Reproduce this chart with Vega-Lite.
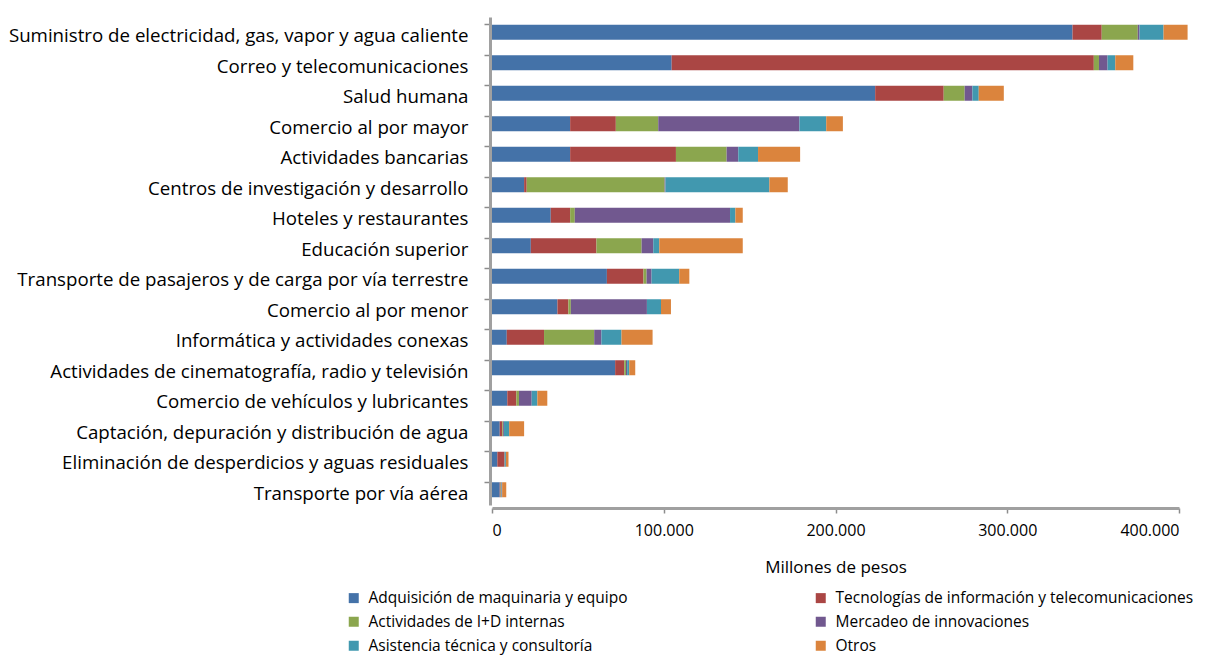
{
  "$schema": "https://vega.github.io/schema/vega-lite/v6.json",
  "autosize": {"type": "none"},
  "padding": {"left": 492, "top": 17, "right": 34, "bottom": 151},
  "width": 687,
  "height": 488,
  "background": "white",
  "config": {
    "locale": {"number": {"decimal": ",", "thousands": ".", "grouping": [3], "currency": ["$", ""]}},
    "view": {"stroke": null},
    "font": "Open Sans"
  },
  "data": {
    "values": [
      {"sector": "Suministro de electricidad, gas, vapor y agua caliente", "tipo": "Adquisición de maquinaria y equipo", "o": 1, "valor": 338000},
      {"sector": "Suministro de electricidad, gas, vapor y agua caliente", "tipo": "Tecnologías de información y telecomunicaciones", "o": 2, "valor": 17000},
      {"sector": "Suministro de electricidad, gas, vapor y agua caliente", "tipo": "Actividades de I+D internas", "o": 3, "valor": 21000},
      {"sector": "Suministro de electricidad, gas, vapor y agua caliente", "tipo": "Mercadeo de innovaciones", "o": 4, "valor": 1000},
      {"sector": "Suministro de electricidad, gas, vapor y agua caliente", "tipo": "Asistencia técnica y consultoría", "o": 5, "valor": 14000},
      {"sector": "Suministro de electricidad, gas, vapor y agua caliente", "tipo": "Otros", "o": 6, "valor": 14000},

      {"sector": "Correo y telecomunicaciones", "tipo": "Adquisición de maquinaria y equipo", "o": 1, "valor": 104600},
      {"sector": "Correo y telecomunicaciones", "tipo": "Tecnologías de información y telecomunicaciones", "o": 2, "valor": 245800},
      {"sector": "Correo y telecomunicaciones", "tipo": "Actividades de I+D internas", "o": 3, "valor": 3000},
      {"sector": "Correo y telecomunicaciones", "tipo": "Mercadeo de innovaciones", "o": 4, "valor": 5000},
      {"sector": "Correo y telecomunicaciones", "tipo": "Asistencia técnica y consultoría", "o": 5, "valor": 4500},
      {"sector": "Correo y telecomunicaciones", "tipo": "Otros", "o": 6, "valor": 10500},

      {"sector": "Salud humana", "tipo": "Adquisición de maquinaria y equipo", "o": 1, "valor": 223100},
      {"sector": "Salud humana", "tipo": "Tecnologías de información y telecomunicaciones", "o": 2, "valor": 39900},
      {"sector": "Salud humana", "tipo": "Actividades de I+D internas", "o": 3, "valor": 12200},
      {"sector": "Salud humana", "tipo": "Mercadeo de innovaciones", "o": 4, "valor": 4500},
      {"sector": "Salud humana", "tipo": "Asistencia técnica y consultoría", "o": 5, "valor": 3700},
      {"sector": "Salud humana", "tipo": "Otros", "o": 6, "valor": 14600},

      {"sector": "Comercio al por mayor", "tipo": "Adquisición de maquinaria y equipo", "o": 1, "valor": 45500},
      {"sector": "Comercio al por mayor", "tipo": "Tecnologías de información y telecomunicaciones", "o": 2, "valor": 26600},
      {"sector": "Comercio al por mayor", "tipo": "Actividades de I+D internas", "o": 3, "valor": 24700},
      {"sector": "Comercio al por mayor", "tipo": "Mercadeo de innovaciones", "o": 4, "valor": 82200},
      {"sector": "Comercio al por mayor", "tipo": "Asistencia técnica y consultoría", "o": 5, "valor": 15600},
      {"sector": "Comercio al por mayor", "tipo": "Otros", "o": 6, "valor": 9700},

      {"sector": "Actividades bancarias", "tipo": "Adquisición de maquinaria y equipo", "o": 1, "valor": 45500},
      {"sector": "Actividades bancarias", "tipo": "Tecnologías de información y telecomunicaciones", "o": 2, "valor": 61600},
      {"sector": "Actividades bancarias", "tipo": "Actividades de I+D internas", "o": 3, "valor": 29500},
      {"sector": "Actividades bancarias", "tipo": "Mercadeo de innovaciones", "o": 4, "valor": 6800},
      {"sector": "Actividades bancarias", "tipo": "Asistencia técnica y consultoría", "o": 5, "valor": 11500},
      {"sector": "Actividades bancarias", "tipo": "Otros", "o": 6, "valor": 24500},

      {"sector": "Centros de investigación y desarrollo", "tipo": "Adquisición de maquinaria y equipo", "o": 1, "valor": 18700},
      {"sector": "Centros de investigación y desarrollo", "tipo": "Tecnologías de información y telecomunicaciones", "o": 2, "valor": 1500},
      {"sector": "Centros de investigación y desarrollo", "tipo": "Actividades de I+D internas", "o": 3, "valor": 80300},
      {"sector": "Centros de investigación y desarrollo", "tipo": "Mercadeo de innovaciones", "o": 4, "valor": 500},
      {"sector": "Centros de investigación y desarrollo", "tipo": "Asistencia técnica y consultoría", "o": 5, "valor": 60500},
      {"sector": "Centros de investigación y desarrollo", "tipo": "Otros", "o": 6, "valor": 10700},

      {"sector": "Hoteles y restaurantes", "tipo": "Adquisición de maquinaria y equipo", "o": 1, "valor": 34200},
      {"sector": "Hoteles y restaurantes", "tipo": "Tecnologías de información y telecomunicaciones", "o": 2, "valor": 11300},
      {"sector": "Hoteles y restaurantes", "tipo": "Actividades de I+D internas", "o": 3, "valor": 2700},
      {"sector": "Hoteles y restaurantes", "tipo": "Mercadeo de innovaciones", "o": 4, "valor": 90400},
      {"sector": "Hoteles y restaurantes", "tipo": "Asistencia técnica y consultoría", "o": 5, "valor": 3100},
      {"sector": "Hoteles y restaurantes", "tipo": "Otros", "o": 6, "valor": 4300},

      {"sector": "Educación superior", "tipo": "Adquisición de maquinaria y equipo", "o": 1, "valor": 22600},
      {"sector": "Educación superior", "tipo": "Tecnologías de información y telecomunicaciones", "o": 2, "valor": 38200},
      {"sector": "Educación superior", "tipo": "Actividades de I+D internas", "o": 3, "valor": 26300},
      {"sector": "Educación superior", "tipo": "Mercadeo de innovaciones", "o": 4, "valor": 6800},
      {"sector": "Educación superior", "tipo": "Asistencia técnica y consultoría", "o": 5, "valor": 3500},
      {"sector": "Educación superior", "tipo": "Otros", "o": 6, "valor": 48600},

      {"sector": "Transporte  de pasajeros y de carga por vía terrestre", "tipo": "Adquisición de maquinaria y equipo", "o": 1, "valor": 66900},
      {"sector": "Transporte  de pasajeros y de carga por vía terrestre", "tipo": "Tecnologías de información y telecomunicaciones", "o": 2, "valor": 21300},
      {"sector": "Transporte  de pasajeros y de carga por vía terrestre", "tipo": "Actividades de I+D internas", "o": 3, "valor": 1800},
      {"sector": "Transporte  de pasajeros y de carga por vía terrestre", "tipo": "Mercadeo de innovaciones", "o": 4, "valor": 2900},
      {"sector": "Transporte  de pasajeros y de carga por vía terrestre", "tipo": "Asistencia técnica y consultoría", "o": 5, "valor": 16100},
      {"sector": "Transporte  de pasajeros y de carga por vía terrestre", "tipo": "Otros", "o": 6, "valor": 5900},

      {"sector": "Comercio al por menor", "tipo": "Adquisición de maquinaria y equipo", "o": 1, "valor": 38100},
      {"sector": "Comercio al por menor", "tipo": "Tecnologías de información y telecomunicaciones", "o": 2, "valor": 6400},
      {"sector": "Comercio al por menor", "tipo": "Actividades de I+D internas", "o": 3, "valor": 1400},
      {"sector": "Comercio al por menor", "tipo": "Mercadeo de innovaciones", "o": 4, "valor": 44300},
      {"sector": "Comercio al por menor", "tipo": "Asistencia técnica y consultoría", "o": 5, "valor": 8200},
      {"sector": "Comercio al por menor", "tipo": "Otros", "o": 6, "valor": 5800},

      {"sector": "Informática y actividades conexas", "tipo": "Adquisición de maquinaria y equipo", "o": 1, "valor": 8600},
      {"sector": "Informática y actividades conexas", "tipo": "Tecnologías de información y telecomunicaciones", "o": 2, "valor": 21700},
      {"sector": "Informática y actividades conexas", "tipo": "Actividades de I+D internas", "o": 3, "valor": 29200},
      {"sector": "Informática y actividades conexas", "tipo": "Mercadeo de innovaciones", "o": 4, "valor": 4200},
      {"sector": "Informática y actividades conexas", "tipo": "Asistencia técnica y consultoría", "o": 5, "valor": 11700},
      {"sector": "Informática y actividades conexas", "tipo": "Otros", "o": 6, "valor": 18100},

      {"sector": "Actividades de cinematografía, radio y televisión", "tipo": "Adquisición de maquinaria y equipo", "o": 1, "valor": 71700},
      {"sector": "Actividades de cinematografía, radio y televisión", "tipo": "Tecnologías de información y telecomunicaciones", "o": 2, "valor": 5300},
      {"sector": "Actividades de cinematografía, radio y televisión", "tipo": "Actividades de I+D internas", "o": 3, "valor": 1000},
      {"sector": "Actividades de cinematografía, radio y televisión", "tipo": "Mercadeo de innovaciones", "o": 4, "valor": 700},
      {"sector": "Actividades de cinematografía, radio y televisión", "tipo": "Asistencia técnica y consultoría", "o": 5, "valor": 1200},
      {"sector": "Actividades de cinematografía, radio y televisión", "tipo": "Otros", "o": 6, "valor": 3500},

      {"sector": "Comercio de vehículos y lubricantes", "tipo": "Adquisición de maquinaria y equipo", "o": 1, "valor": 8900},
      {"sector": "Comercio de vehículos y lubricantes", "tipo": "Tecnologías de información y telecomunicaciones", "o": 2, "valor": 5300},
      {"sector": "Comercio de vehículos y lubricantes", "tipo": "Actividades de I+D internas", "o": 3, "valor": 1500},
      {"sector": "Comercio de vehículos y lubricantes", "tipo": "Mercadeo de innovaciones", "o": 4, "valor": 7400},
      {"sector": "Comercio de vehículos y lubricantes", "tipo": "Asistencia técnica y consultoría", "o": 5, "valor": 3300},
      {"sector": "Comercio de vehículos y lubricantes", "tipo": "Otros", "o": 6, "valor": 5800},

      {"sector": "Captación, depuración y distribución de agua", "tipo": "Adquisición de maquinaria y equipo", "o": 1, "valor": 4500},
      {"sector": "Captación, depuración y distribución de agua", "tipo": "Tecnologías de información y telecomunicaciones", "o": 2, "valor": 1500},
      {"sector": "Captación, depuración y distribución de agua", "tipo": "Actividades de I+D internas", "o": 3, "valor": 500},
      {"sector": "Captación, depuración y distribución de agua", "tipo": "Mercadeo de innovaciones", "o": 4, "valor": 500},
      {"sector": "Captación, depuración y distribución de agua", "tipo": "Asistencia técnica y consultoría", "o": 5, "valor": 3000},
      {"sector": "Captación, depuración y distribución de agua", "tipo": "Otros", "o": 6, "valor": 8700},

      {"sector": "Eliminación de desperdicios y aguas residuales", "tipo": "Adquisición de maquinaria y equipo", "o": 1, "valor": 3100},
      {"sector": "Eliminación de desperdicios y aguas residuales", "tipo": "Tecnologías de información y telecomunicaciones", "o": 2, "valor": 3900},
      {"sector": "Eliminación de desperdicios y aguas residuales", "tipo": "Actividades de I+D internas", "o": 3, "valor": 300},
      {"sector": "Eliminación de desperdicios y aguas residuales", "tipo": "Mercadeo de innovaciones", "o": 4, "valor": 300},
      {"sector": "Eliminación de desperdicios y aguas residuales", "tipo": "Asistencia técnica y consultoría", "o": 5, "valor": 500},
      {"sector": "Eliminación de desperdicios y aguas residuales", "tipo": "Otros", "o": 6, "valor": 1500},

      {"sector": "Transporte por vía aérea", "tipo": "Adquisición de maquinaria y equipo", "o": 1, "valor": 4500},
      {"sector": "Transporte por vía aérea", "tipo": "Tecnologías de información y telecomunicaciones", "o": 2, "valor": 500},
      {"sector": "Transporte por vía aérea", "tipo": "Actividades de I+D internas", "o": 3, "valor": 300},
      {"sector": "Transporte por vía aérea", "tipo": "Mercadeo de innovaciones", "o": 4, "valor": 300},
      {"sector": "Transporte por vía aérea", "tipo": "Asistencia técnica y consultoría", "o": 5, "valor": 300},
      {"sector": "Transporte por vía aérea", "tipo": "Otros", "o": 6, "valor": 2400}
    ]
  },
  "mark": {"type": "bar", "size": 15},
  "encoding": {
    "y": {
      "field": "sector",
      "type": "nominal",
      "sort": null,
      "scale": {"paddingInner": 0.5, "paddingOuter": 0.25},
      "axis": {
        "title": null,
        "bandPosition": 0,
        "labelFontSize": 18.7,
        "labelColor": "#000000",
        "labelPadding": 16,
        "labelOffset": 4,
        "labelLimit": 520,
        "tickSize": 6,
        "tickColor": "#8c8c8c",
        "tickWidth": 1.5,
        "domainColor": "#a0a0a0",
        "domainWidth": 3,
        "offset": 2
      }
    },
    "x": {
      "field": "valor",
      "type": "quantitative",
      "stack": "zero",
      "scale": {"domain": [0, 400000], "nice": false},
      "axis": {
        "title": "Millones de pesos",
        "titleFontSize": 17,
        "titleFontWeight": "normal",
        "titleColor": "#000000",
        "titlePadding": 21,
        "values": [0, 100000, 200000, 300000, 400000],
        "format": ",d",
        "labelFontSize": 16,
        "labelColor": "#000000",
        "labelPadding": 9,
        "grid": false,
        "tickSize": 5,
        "tickColor": "#8c8c8c",
        "tickWidth": 1.5,
        "domainColor": "#a0a0a0",
        "domainWidth": 3,
        "offset": 3
      }
    },
    "color": {
      "field": "tipo",
      "type": "nominal",
      "scale": {
        "domain": ["Adquisición de maquinaria y equipo", "Tecnologías de información y telecomunicaciones", "Actividades de I+D internas", "Mercadeo de innovaciones", "Asistencia técnica y consultoría", "Otros"],
        "range": ["#4472A8", "#AA4644", "#8BA64E", "#71588F", "#4198AF", "#DB843D"]
      },
      "legend": {
        "title": null,
        "orient": "none",
        "direction": "horizontal",
        "legendX": -146,
        "legendY": 573,
        "columns": 2,
        "columnPadding": 185,
        "rowPadding": 7,
        "symbolType": "square",
        "symbolSize": 100,
        "symbolStrokeWidth": 0,
        "labelFontSize": 15.5,
        "labelColor": "#000000",
        "labelOffset": 7,
        "labelLimit": 500
      }
    },
    "order": {"field": "o", "type": "quantitative"}
  }
}
